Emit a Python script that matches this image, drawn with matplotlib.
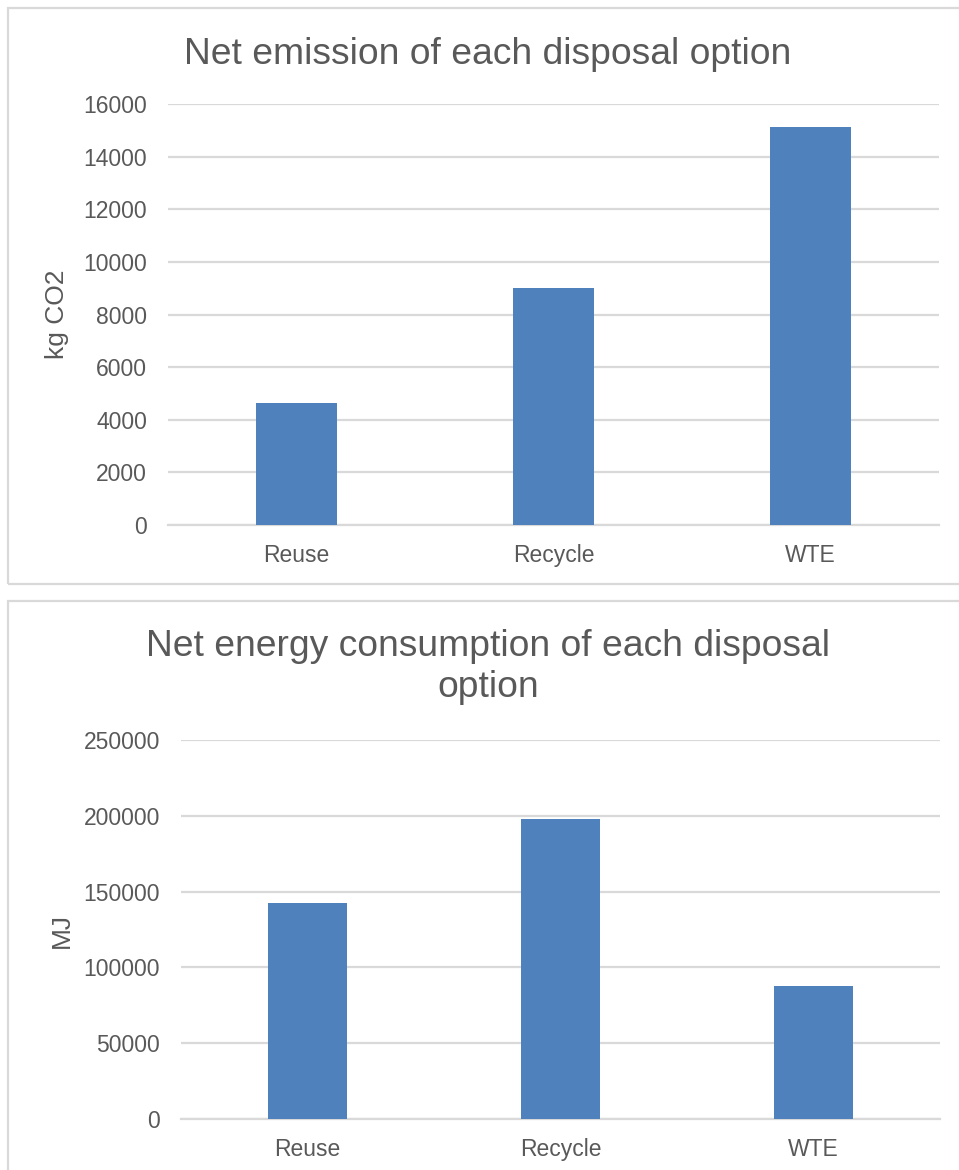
import matplotlib
matplotlib.use("Agg")
import matplotlib.pyplot as plt
from matplotlib.patches import Rectangle

plt.rcParams["font.family"] = ["Liberation Sans", "DejaVu Sans"]

# Data
categories = ["Reuse", "Recycle", "WTE"]
emission_kg_co2 = [4630, 9000, 15140]
energy_mj = [142300, 198000, 87700]

W, H = 959, 1170
DPI = 100
TEXT = "#595959"
GRID = "#d9d9d9"
BAR = "#4f81bd"

fig = plt.figure(figsize=(W / DPI, H / DPI), dpi=DPI)


def ax_rect(left, top, right, bottom):
    return [left / W, 1 - bottom / H, (right - left) / W, (bottom - top) / H]


def fx(px):
    return px / W


def fy(py):
    return 1 - py / H


def panel(ax, values, ymax, step):
    x = range(len(values))
    ax.bar(x, values, width=0.315, color=BAR, zorder=3)
    ax.set_xlim(-0.5, len(values) - 0.5)
    ax.set_ylim(0, ymax)
    ax.set_yticks(range(0, ymax + 1, step))
    ax.set_xticks(list(x))
    ax.set_xticklabels(categories)
    ax.yaxis.grid(True, color=GRID, linewidth=1.6, zorder=0)
    ax.set_axisbelow(True)
    for s in ["top", "right", "left"]:
        ax.spines[s].set_visible(False)
    ax.spines["bottom"].set_color(GRID)
    ax.spines["bottom"].set_linewidth(1.6)
    ax.tick_params(axis="both", length=0, labelsize=16.5, colors=TEXT)
    ax.tick_params(axis="y", pad=15)
    ax.tick_params(axis="x", pad=14)


# Chart frames
fig.patches.append(Rectangle((fx(8), fy(584)), 1, (584 - 8) / H,
                             transform=fig.transFigure, fill=False,
                             edgecolor=GRID, linewidth=1.6))
fig.patches.append(Rectangle((fx(8), -0.1), 1, 0.1 + (1170 - 601) / H,
                             transform=fig.transFigure, fill=False,
                             edgecolor=GRID, linewidth=1.6))

ax1 = fig.add_axes(ax_rect(168, 104, 939, 525))
panel(ax1, emission_kg_co2, 16000, 2000)

ax2 = fig.add_axes(ax_rect(181, 740, 940, 1119))
panel(ax2, energy_mj, 250000, 50000)

# Axis titles
fig.text(fx(57), fy(314), "kg CO2", rotation=90, ha="center", va="center",
         fontsize=19, color=TEXT)
fig.text(fx(62), fy(930), "MJ", rotation=90, ha="center", va="center",
         fontsize=19, color=TEXT)

# Chart titles
fig.text(fx(488), fy(55), "Net emission of each disposal option",
         ha="center", va="center", fontsize=26.8, color=TEXT)
fig.text(fx(488), fy(667), "Net energy consumption of each disposal\noption",
         ha="center", va="center", fontsize=26.8, color=TEXT, linespacing=1.24)

fig.savefig("out.png", dpi=DPI)
